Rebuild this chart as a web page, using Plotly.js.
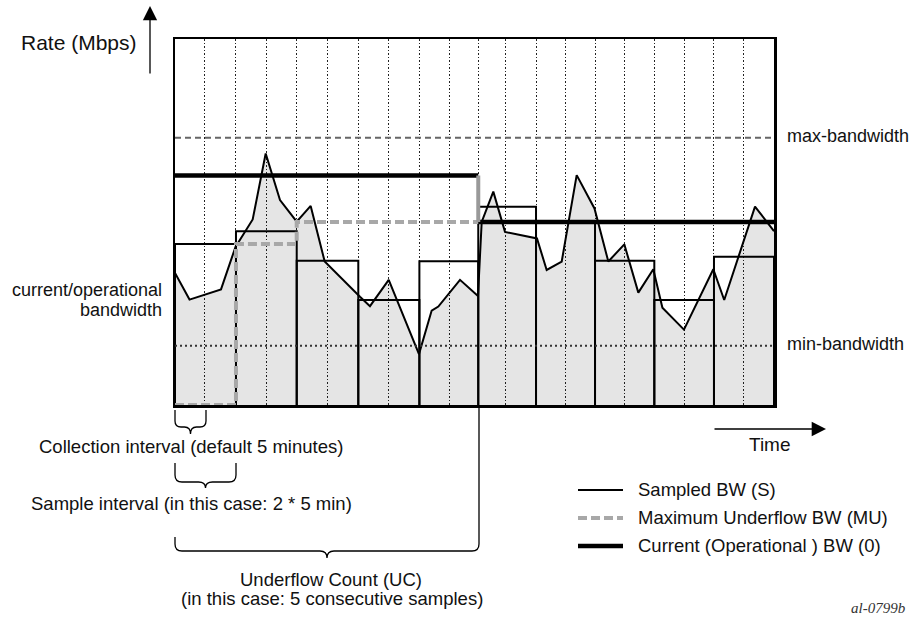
<!DOCTYPE html>
<html>
<head>
<meta charset="utf-8">
<script src="https://cdn.plot.ly/plotly-3.0.1.min.js"></script>
<style>html,body{margin:0;padding:0;background:#fff;}#chart{width:911px;height:618px;}</style>
</head>
<body>
<div id="chart"></div>
<script>
// ---- data (time in minutes, rate in Mbps-like units) ----
const collectionTimes = [0, 5.0, 10.18, 15.3, 20.32, 25.5, 30.6, 35.7, 40.8, 45.9, 50.63, 55.2, 60.27, 65.2, 70.12, 75.0, 80.02, 85.0, 89.98, 94.9, 100];
const sampleEdges = [0, 10.18, 20.32, 30.6, 40.8, 50.63, 60.27, 70.12, 80.02, 89.98, 100];
const sampleAvg = [44.0, 47.5, 39.4, 28.7, 39.3, 54.2, 50.0, 39.4, 28.7, 40.5];
const sampledTime = [0, 2.42, 7.68, 10.1, 12.97, 15.14, 17.53, 20.32, 22.65, 24.99, 30.88, 32.55, 35.68, 40.73, 42.85, 43.96, 47.58, 50.58, 51.2, 53.14, 55.09, 60.43, 62.05, 64.56, 67.06, 70.03, 72.34, 75.01, 77.35, 79.85, 81.37, 84.97, 89.87, 91.69, 96.83, 100];
const sampledRate = [36.1, 28.8, 31.6, 43.2, 50.7, 68.7, 56.0, 50.1, 54.4, 39.2, 29.6, 27.0, 34.2, 13.9, 25.8, 26.9, 34.2, 29.8, 50.0, 58.3, 47.3, 45.5, 36.9, 39.2, 62.8, 53.7, 39.2, 43.9, 30.7, 37.1, 26.6, 20.6, 37.1, 28.7, 54.2, 47.5];
const muTime = [0, 10.18, 10.18, 20.32, 20.32, 50.63];
const muRate = [0, 0, 44.0, 44.0, 50.0, 50.0];
const currentTime = [0, 50.63, null, 50.63, 100];
const currentRate = [62.7, 62.7, null, 50.0, 50.0];
const changeTime = [50.63, 50.63];
const changeRate = [50.0, 62.7];
const maxBandwidth = 73.0;
const minBandwidth = 16.2;
const xRange = [0, 100];
const yRange = [0, 100];

// ---- geometry helpers (pixel -> paper) ----
const L = 175, T = 39, W = 599, H = 366;
const px = x => (x - L) / W;
const py = y => (T + H - y) / H;

// sample rectangles built from the arrays
const rectX = [], rectY = [];
for (let i = 0; i < sampleAvg.length; i++) {
  rectX.push(sampleEdges[i], sampleEdges[i], sampleEdges[i + 1], sampleEdges[i + 1], null);
  rectY.push(0, sampleAvg[i], sampleAvg[i], 0, null);
}

const traces = [
  {x: sampledTime, y: sampledRate, mode: 'lines', fill: 'tozeroy', fillcolor: 'rgba(0,0,0,0.1)',
   line: {color: '#000', width: 2}, showlegend: false, hoverinfo: 'skip'},
  {x: rectX, y: rectY, mode: 'lines', line: {color: '#000', width: 2}, showlegend: false, hoverinfo: 'skip'},
  {x: xRange, y: [maxBandwidth, maxBandwidth], mode: 'lines', line: {color: '#666', width: 2, dash: '6px,4px'}, showlegend: false, hoverinfo: 'skip'},
  {x: xRange, y: [minBandwidth, minBandwidth], mode: 'lines', line: {color: '#333', width: 2, dash: '2px,3px'}, showlegend: false, hoverinfo: 'skip'},
  {x: currentTime, y: currentRate, mode: 'lines', line: {color: '#000', width: 4.5}, showlegend: false, hoverinfo: 'skip'},
  {x: muTime, y: muRate, mode: 'lines', line: {color: '#a8a8a8', width: 4, dash: '9px,4px'}, showlegend: false, hoverinfo: 'skip'},
  {x: changeTime, y: changeRate, mode: 'lines', line: {color: '#999', width: 4}, showlegend: false, hoverinfo: 'skip'}
];

const font = {family: '"Liberation Sans", Arial, sans-serif', size: 18, color: '#111'};

function ann(text, x, y, xanchor, size, extra) {
  return Object.assign({text: text, xref: 'paper', yref: 'paper', x: px(x), y: py(y),
    xanchor: xanchor, yanchor: 'middle', showarrow: false,
    font: Object.assign({}, font, {size: size})}, extra || {});
}

function brace(x0, x1, ytL, ytR, ym, yb, r) {
  const xc = (x0 + x1) / 2;
  const P = (x, y) => px(x).toFixed(5) + ',' + py(y).toFixed(5);
  return 'M' + P(x0, ytL) + ' L' + P(x0, ym - r) + ' Q' + P(x0, ym) + ' ' + P(x0 + r, ym) +
    ' L' + P(xc - r, ym) + ' Q' + P(xc, ym) + ' ' + P(xc, yb) +
    ' Q' + P(xc, ym) + ' ' + P(xc + r, ym) + ' L' + P(x1 - r, ym) +
    ' Q' + P(x1, ym) + ' ' + P(x1, ym - r) + ' L' + P(x1, ytR);
}

const braceLine = {color: '#000', width: 1.3};
const shapes = [
  {type: 'path', xref: 'paper', yref: 'paper', path: brace(175, 206, 410, 410, 427, 434, 6), line: braceLine},
  {type: 'path', xref: 'paper', yref: 'paper', path: brace(175, 236, 463, 463, 482, 488, 7), line: braceLine},
  {type: 'path', xref: 'paper', yref: 'paper', path: brace(175, 479, 537, 405, 551, 558, 7), line: braceLine},
  // legend samples
  {type: 'line', xref: 'paper', yref: 'paper', x0: px(578), x1: px(623), y0: py(490), y1: py(490), line: {color: '#000', width: 2}},
  {type: 'line', xref: 'paper', yref: 'paper', x0: px(578), x1: px(623), y0: py(518), y1: py(518), line: {color: '#a8a8a8', width: 4, dash: '9px,4px'}},
  {type: 'line', xref: 'paper', yref: 'paper', x0: px(578), x1: px(623), y0: py(546), y1: py(546), line: {color: '#000', width: 4.5}}
];

const annotations = [
  ann('Rate (Mbps)', 78.5, 42, 'center', 21),
  {text: '', xref: 'paper', yref: 'paper', x: px(150), y: py(6), ax: 0, ay: 69, showarrow: true,
   arrowhead: 2, arrowsize: 2.2, arrowwidth: 1.3, arrowcolor: '#000', standoff: 0},
  ann('current/operational', 164, 290, 'right', 18),
  ann('bandwidth', 164, 310, 'right', 18),
  ann('max-bandwidth', 785, 136, 'left', 18),
  ann('min-bandwidth', 785, 344, 'left', 18),
  {text: '', xref: 'paper', yref: 'paper', x: px(826), y: py(429), ax: -113, ay: 0, showarrow: true,
   arrowhead: 2, arrowsize: 2.2, arrowwidth: 1.3, arrowcolor: '#000', standoff: 0},
  ann('Time', 770, 444, 'center', 19),
  ann('Collection interval (default 5 minutes)', 191, 446, 'center', 18.5),
  ann('Sample interval (in this case: 2 * 5 min)', 191, 503, 'center', 18.5),
  ann('Underflow Count (UC)', 331, 579, 'center', 18.5),
  ann('(in this case: 5 consecutive samples)', 332, 598, 'center', 18.5),
  ann('Sampled BW (S)', 636, 489, 'left', 18.5),
  ann('Maximum Underflow BW (MU)', 636, 517, 'left', 18.5),
  ann('Current (Operational ) BW (0)', 636, 545, 'left', 18.5),
  {text: '<i>al-0799b</i>', xref: 'paper', yref: 'paper', x: px(908), y: py(608), xanchor: 'right', yanchor: 'middle',
   showarrow: false, font: {family: '"Liberation Serif", "Times New Roman", serif', size: 15, color: '#333'}}
];

const layout = {
  width: 911, height: 618,
  margin: {l: L, r: 911 - L - W, t: T, b: 618 - T - H, pad: 0},
  paper_bgcolor: '#fff', plot_bgcolor: '#fff',
  showlegend: false,
  font: font,
  xaxis: {range: xRange, tickvals: collectionTimes.slice(1, -1), showticklabels: false, ticks: '',
          showgrid: true, gridcolor: '#222', gridwidth: 1, griddash: '1.5px,2px', zeroline: false,
          showline: true, mirror: true, linecolor: '#000', linewidth: 2.5, fixedrange: true},
  yaxis: {range: yRange, showticklabels: false, ticks: '', showgrid: false, zeroline: false,
          showline: true, mirror: true, linecolor: '#000', linewidth: 2.5, fixedrange: true},
  shapes: shapes,
  annotations: annotations
};

Plotly.newPlot('chart', traces, layout, {staticPlot: true, displayModeBar: false});
</script>
</body>
</html>
